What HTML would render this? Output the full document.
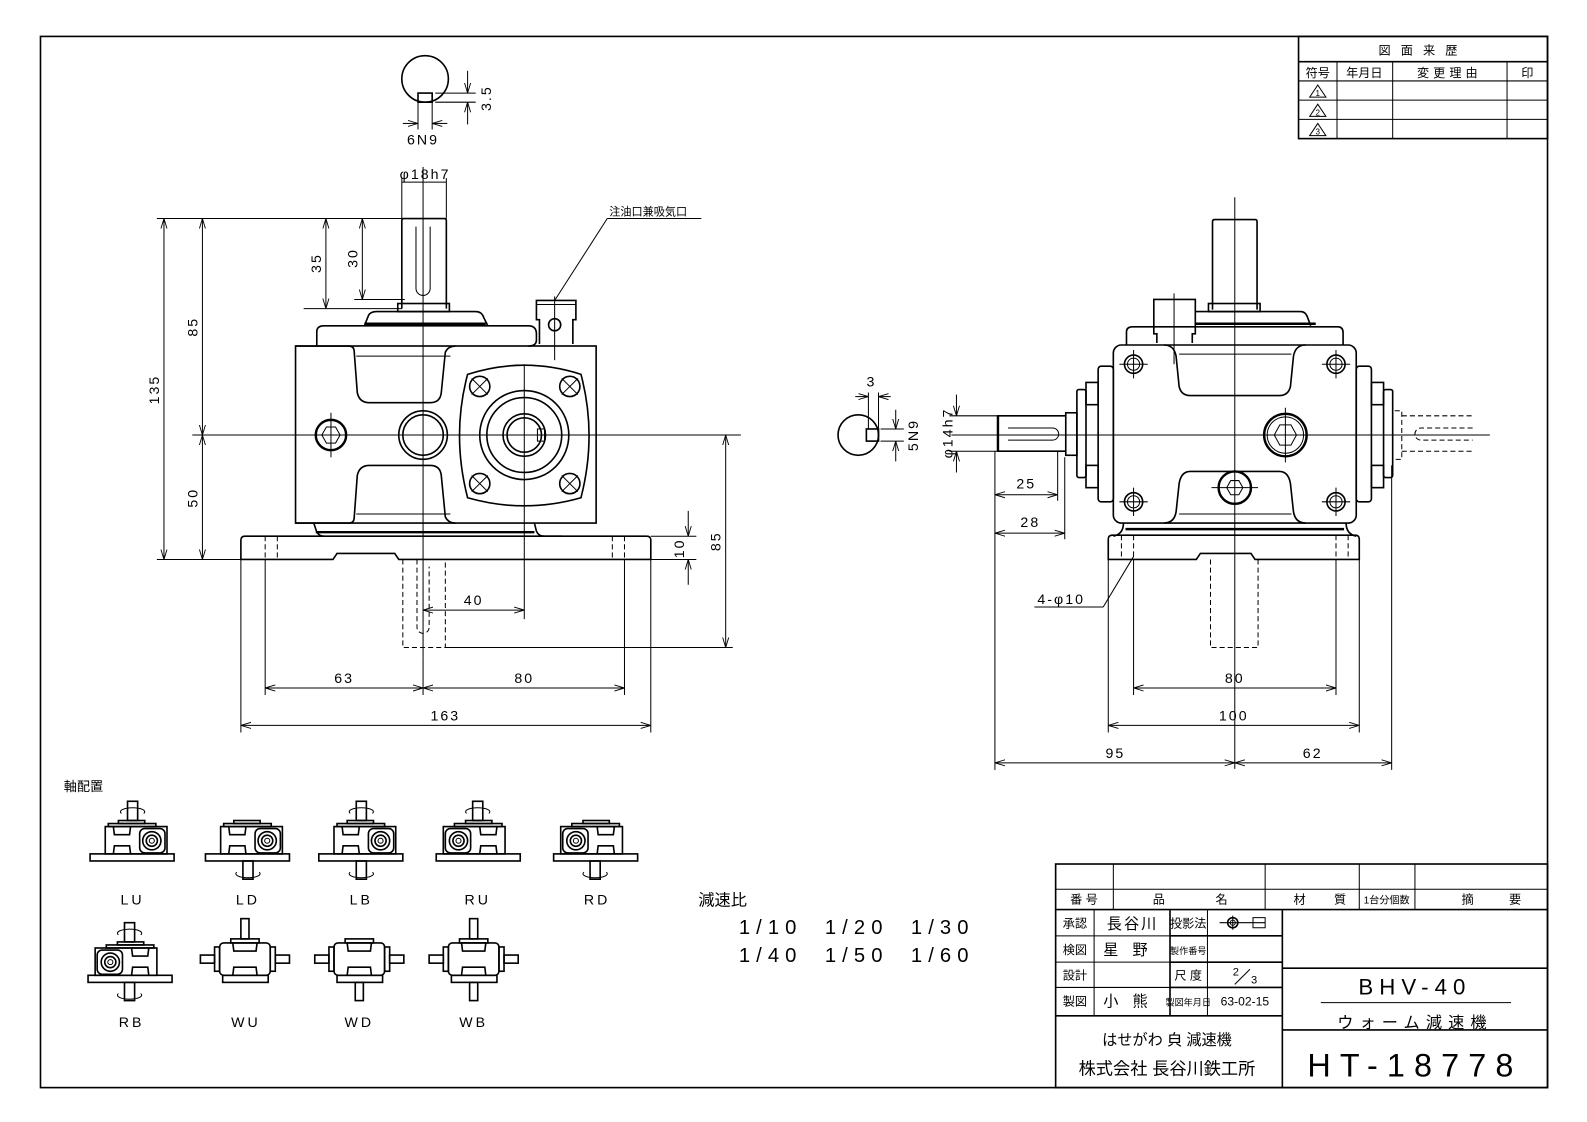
<!DOCTYPE html>
<html><head><meta charset="utf-8">
<style>
html,body{margin:0;padding:0;background:#fff;}
svg{display:block;}
text{font-family:"Liberation Sans","Noto Sans CJK JP",sans-serif;fill:#000;}
.o{fill:none;stroke:#000;stroke-width:1.6;}
.t{fill:none;stroke:#000;stroke-width:1;}
.d{fill:none;stroke:#000;stroke-width:1;stroke-dasharray:5 3;}
.k{fill:none;stroke:#000;stroke-width:2.4;}
.dim{font-size:14px;letter-spacing:2px;}
</style></head><body>
<svg width="1587" height="1122" viewBox="0 0 1568 1109" preserveAspectRatio="none" xmlns="http://www.w3.org/2000/svg">
<defs>
<marker id="a" markerWidth="10" markerHeight="8" refX="10" refY="4" orient="auto-start-reverse" markerUnits="userSpaceOnUse">
<path d="M0,1 L10,4 L0,7" fill="none" stroke="#000" stroke-width="0.9"/></marker>
<g id="ic">
<rect x="-42" y="-8" width="83" height="7" class="o"/>
<rect x="-27" y="-35" width="61" height="27" class="o"/>
<rect x="-24" y="-38" width="47" height="3" class="o"/>
<rect x="-14" y="-41" width="26" height="3" class="o"/>
<path d="M-19,-35 L-18,-27 H-3 L-2,-35 M-19,-8 L-18,-16 H-3 L-2,-8" class="o"/>
<rect x="7" y="-33" width="25" height="24" rx="5" class="o"/>
<circle cx="19" cy="-21" r="9" class="o"/><circle cx="19" cy="-21" r="5.5" class="o"/><circle cx="19" cy="-21" r="2.5" class="t"/>
</g>
<g id="up"><rect x="-5" y="-60" width="10" height="19" class="o"/><path d="M-11,-48 A12,4 0 1,1 11,-48" class="t"/></g>
<g id="dn"><rect x="-5" y="-1" width="10" height="18" class="o"/><path d="M-11,10 A12,4 0 1,0 11,10" class="t"/></g>
<g id="w">
<rect x="-22" y="-8" width="45" height="7" class="o"/>
<rect x="-25" y="-40" width="50" height="32" rx="4" class="o"/>
<rect x="-30" y="-36" width="5" height="24" class="o"/><rect x="25" y="-36" width="5" height="24" class="o"/>
<rect x="-44" y="-28" width="14" height="8" class="o"/><rect x="30" y="-28" width="14" height="8" class="o"/>
<rect x="-14" y="-44" width="28" height="4" class="o"/>
<path d="M-12,-40 L-11,-32 H11 L12,-40 M-12,-8 L-11,-16 H11 L12,-8" class="o"/>
</g>
</defs>

<rect x="40" y="36" width="1489" height="1039" class="o" stroke-width="2"/>

<g>
<rect x="1283" y="36" width="246" height="101" class="o"/>
<line x1="1283" y1="61" x2="1529" y2="61" class="o" stroke-width="2"/>
<line x1="1283" y1="80" x2="1529" y2="80" class="t"/>
<line x1="1283" y1="99" x2="1529" y2="99" class="t"/>
<line x1="1283" y1="118" x2="1529" y2="118" class="t"/>
<line x1="1321" y1="61" x2="1321" y2="137" class="t"/>
<line x1="1376" y1="61" x2="1376" y2="137" class="t"/>
<line x1="1489" y1="61" x2="1489" y2="137" class="t"/>
<text x="1406" y="54" font-size="12" text-anchor="middle" letter-spacing="10">図面来歴</text>
<text x="1302" y="76" font-size="12" text-anchor="middle">符号</text>
<text x="1348" y="76" font-size="12" text-anchor="middle">年月日</text>
<text x="1432" y="76" font-size="12" text-anchor="middle" letter-spacing="4">変更理由</text>
<text x="1509" y="76" font-size="12" text-anchor="middle">印</text>
<path d="M1294,96 L1302,84 L1310,96 Z M1294,115 L1302,103 L1310,115 Z M1294,134 L1302,122 L1310,134 Z" class="t"/>
<text x="1302" y="95" font-size="8" text-anchor="middle">1</text>
<text x="1302" y="114" font-size="8" text-anchor="middle">2</text>
<text x="1302" y="133" font-size="8" text-anchor="middle">3</text>
</g>

<circle cx="420" cy="78" r="23" class="o"/>
<rect x="413" y="92" width="14" height="9" fill="#fff" class="o"/>
<path d="M430,92 H470 M430,101 H470" class="t"/>
<line x1="462" y1="70" x2="462" y2="92" class="t" marker-end="url(#a)"/>
<line x1="462" y1="123" x2="462" y2="101" class="t" marker-end="url(#a)"/>
<text x="485" y="97" class="dim" transform="rotate(-90 485 97)" text-anchor="middle">3.5</text>
<path d="M413,101 V128 M427,101 V128" class="t"/>
<line x1="398" y1="122" x2="413" y2="122" class="t" marker-end="url(#a)"/>
<line x1="442" y1="122" x2="427" y2="122" class="t" marker-end="url(#a)"/>
<text x="418" y="143" class="dim" text-anchor="middle">6N9</text>
<text x="420" y="177" class="dim" text-anchor="middle">φ18h7</text>
<path d="M397,180 H441 M397,176 V216 M441,176 V216" class="t"/>

<text x="602" y="213" font-size="11">注油口兼吸気口</text>
<path d="M600,216 H693 M600,216 L548,297" class="t"/>

<g>
<line x1="190" y1="430" x2="732" y2="430" class="t"/>
<line x1="418" y1="165" x2="418" y2="650" class="t"/>
<line x1="518" y1="360" x2="518" y2="612" class="t"/>
<path d="M397,305 V218 Q397,216 399,216 H439 Q441,216 441,218 V305" class="o"/>
<path d="M411,224 V285 A7,7 0 0,0 425,285 V224" class="t"/>
<rect x="393" y="300" width="51" height="8" class="o"/>
<path d="M360,322 L364,312 Q366,308 372,308 H470 Q476,308 478,314 L482,322" class="o"/>
<line x1="360" y1="320" x2="480" y2="320" class="k"/>
<path d="M313,342 V328 Q313,322 320,322 H522 Q530,322 530,330 V336 Q530,342 522,342" class="o"/>
<rect x="292" y="342" width="297" height="175" class="o"/>
<path d="M292,342 H345 Q350,342 350,348 L353,388 Q355,398 365,398 H425 Q435,398 436,388 L440,348 Q443,342 450,342" class="o"/>
<path d="M292,517 H345 Q350,517 350,511 L353,470 Q355,460 365,460 H425 Q435,460 436,470 L440,511 Q443,517 450,517" class="o"/>
<path d="M352,352 H445 M352,508 H445" class="t"/>
<circle cx="327" cy="430" r="15" class="k"/>
<path d="M318,430 L322.5,422 H331.5 L336,430 L331.5,438 H322.5 Z" class="t"/>
<line x1="327" y1="408" x2="327" y2="452" class="t"/>
<circle cx="418" cy="430" r="24" class="o"/><circle cx="418" cy="430" r="20" class="o"/>
<path d="M462,370 Q518,352 574,370 Q590,430 574,492 Q518,508 462,492 Q446,430 462,370 Z" class="o"/>
<circle cx="518" cy="430" r="44" class="o"/><circle cx="518" cy="430" r="37" class="o"/>
<circle cx="518" cy="430" r="21" class="o"/><circle cx="518" cy="430" r="17" class="o"/>
<rect x="531" y="424" width="7" height="12" class="t"/>
<g class="o">
<circle cx="474" cy="382" r="10"/><circle cx="563" cy="382" r="10"/><circle cx="474" cy="478" r="10"/><circle cx="563" cy="478" r="10"/>
</g>
<path d="M466,374 L482,390 M482,374 L466,390 M555,374 L571,390 M571,374 L555,390 M466,470 L482,486 M482,470 L466,486 M555,470 L571,486 M571,470 L555,486" class="t"/>
<path d="M533,340 V316 H530 V297 H569 V316 H566 V340" class="o"/>
<path d="M530,301 H569" class="t"/>
<circle cx="548" cy="321" r="6" class="o"/>
<line x1="548" y1="293" x2="548" y2="356" class="t"/>
<path d="M310,517 L312,523 Q314,530 320,530 M528,517 L530,525 Q532,530 538,530 H555" class="o"/>
<path d="M312,526 H528" class="k"/>
<path d="M242,530 H639 Q643,530 643,534 V553 H394 L390,547 H333 L329,553 H238 V534 Q238,530 242,530 Z" class="o"/>
<path d="M262,530 V553 M274,530 V553 M605,530 V553 M617,530 V553" class="d"/>
<path d="M398,553 V640 H440 V553 M412,553 V620 A6,6 0 0,0 424,620 V560" class="d"/>
<path d="M155,216 H441 M155,553 H238 M300,305 H397 M350,296 H400" class="t"/>
<line x1="162" y1="216" x2="162" y2="553" class="t" marker-start="url(#a)" marker-end="url(#a)"/>
<text x="157" y="385" class="dim" transform="rotate(-90 157 385)" text-anchor="middle">135</text>
<line x1="200" y1="216" x2="200" y2="430" class="t" marker-start="url(#a)" marker-end="url(#a)"/>
<text x="195" y="323" class="dim" transform="rotate(-90 195 323)" text-anchor="middle">85</text>
<line x1="200" y1="430" x2="200" y2="553" class="t" marker-start="url(#a)" marker-end="url(#a)"/>
<text x="195" y="492" class="dim" transform="rotate(-90 195 492)" text-anchor="middle">50</text>
<line x1="322" y1="216" x2="322" y2="305" class="t" marker-start="url(#a)" marker-end="url(#a)"/>
<text x="317" y="260" class="dim" transform="rotate(-90 317 260)" text-anchor="middle">35</text>
<line x1="358" y1="216" x2="358" y2="296" class="t" marker-start="url(#a)" marker-end="url(#a)"/>
<text x="353" y="255" class="dim" transform="rotate(-90 353 255)" text-anchor="middle">30</text>
<path d="M440,640 H724 M643,530 H688 M643,553 H688" class="t"/>
<line x1="717" y1="430" x2="717" y2="640" class="t" marker-start="url(#a)" marker-end="url(#a)"/>
<text x="712" y="535" class="dim" transform="rotate(-90 712 535)" text-anchor="middle">85</text>
<line x1="680" y1="505" x2="680" y2="530" class="t" marker-end="url(#a)"/>
<line x1="680" y1="578" x2="680" y2="553" class="t" marker-end="url(#a)"/>
<text x="676" y="542" class="dim" transform="rotate(-90 676 542)" text-anchor="middle">10</text>
<line x1="418" y1="603" x2="518" y2="603" class="t" marker-start="url(#a)" marker-end="url(#a)"/>
<text x="468" y="598" class="dim" text-anchor="middle">40</text>
<path d="M262,553 V687 M617,553 V687 M238,553 V724 M643,553 V724 M418,650 V687" class="t"/>
<line x1="262" y1="680" x2="418" y2="680" class="t" marker-start="url(#a)" marker-end="url(#a)"/>
<line x1="418" y1="680" x2="617" y2="680" class="t" marker-start="url(#a)" marker-end="url(#a)"/>
<text x="340" y="675" class="dim" text-anchor="middle">63</text>
<text x="518" y="675" class="dim" text-anchor="middle">80</text>
<line x1="238" y1="717" x2="643" y2="717" class="t" marker-start="url(#a)" marker-end="url(#a)"/>
<text x="440" y="712" class="dim" text-anchor="middle">163</text>
</g>

<circle cx="848" cy="430" r="20" class="o"/>
<rect x="856" y="424" width="12" height="12" fill="#fff" class="o"/>
<path d="M858,388 V424 M868,388 V424 M870,424 H893 M870,436 H893" class="t"/>
<line x1="845" y1="392" x2="858" y2="392" class="t" marker-end="url(#a)"/>
<line x1="880" y1="392" x2="868" y2="392" class="t" marker-end="url(#a)"/>
<text x="861" y="382" class="dim" text-anchor="middle">3</text>
<line x1="885" y1="405" x2="885" y2="424" class="t" marker-end="url(#a)"/>
<line x1="885" y1="456" x2="885" y2="436" class="t" marker-end="url(#a)"/>
<text x="907" y="430" class="dim" transform="rotate(-90 907 430)" text-anchor="middle">5N9</text>

<g>
<line x1="940" y1="430" x2="1472" y2="430" class="t"/>
<line x1="1220" y1="195" x2="1220" y2="760" class="t"/>
<path d="M1198,306 V219 Q1198,217 1200,217 H1240 Q1242,217 1242,219 V306" class="o"/>
<rect x="1194" y="300" width="51" height="8" class="o"/>
<path d="M1181,308 H1285 Q1290,308 1292,314 L1295,322" class="o"/>
<line x1="1181" y1="320" x2="1300" y2="320" class="k"/>
<path d="M1113,341 V328 Q1113,323 1119,323 H1322 Q1327,323 1327,329 V341" class="o"/>
<path d="M1143,339 V330 H1140 V296 H1181 V330 H1178 V339" class="o"/>
<path d="M1160,290 V360" class="t"/>
<rect x="1100" y="341" width="240" height="176" rx="8" class="o"/>
<path d="M1150,341 Q1160,341 1162,352 L1165,382 Q1167,391 1176,391 H1264 Q1273,391 1275,382 L1278,352 Q1280,341 1290,341" class="o"/>
<path d="M1165,350 H1276" class="t"/>
<path d="M1150,517 Q1160,517 1162,506 L1165,478 Q1167,466 1176,466 H1264 Q1273,466 1275,478 L1278,506 Q1280,517 1290,517" class="o"/>
<path d="M1165,508 H1276" class="t"/>
<g class="o"><circle cx="1120" cy="360" r="9"/><circle cx="1320" cy="360" r="9"/><circle cx="1120" cy="496" r="9"/><circle cx="1320" cy="496" r="9"/></g>
<g class="t"><circle cx="1120" cy="360" r="6"/><circle cx="1320" cy="360" r="6"/><circle cx="1120" cy="496" r="6"/><circle cx="1320" cy="496" r="6"/>
<path d="M1106,360 H1134 M1120,346 V374 M1306,360 H1334 M1320,346 V374 M1106,496 H1134 M1120,482 V510 M1306,496 H1334 M1320,482 V510"/></g>
<circle cx="1270" cy="430" r="21" class="k"/><circle cx="1270" cy="430" r="18" class="t"/>
<path d="M1259,430 L1264.5,420 H1275.5 L1281,430 L1275.5,440 H1264.5 Z" class="t"/>
<line x1="1270" y1="403" x2="1270" y2="457" class="t"/>
<circle cx="1220" cy="482" r="16" class="k"/>
<path d="M1212,482 L1216,475 H1224 L1228,482 L1224,489 H1216 Z" class="t"/>
<line x1="1197" y1="482" x2="1243" y2="482" class="t"/>
<rect x="1085" y="362" width="15" height="134" rx="3" class="o"/>
<rect x="1073" y="378" width="12" height="22" class="o"/><rect x="1073" y="460" width="12" height="22" class="o"/>
<rect x="1064" y="385" width="9" height="87" rx="2" class="o"/>
<rect x="1053" y="408" width="11" height="42" class="o"/>
<path d="M1053,411 H986 V446 H1053" class="o"/>
<line x1="986" y1="411" x2="986" y2="446" class="k"/>
<path d="M996,423 H1040 A6,6 0 0,1 1040,435 H996" class="t"/>
<rect x="1340" y="362" width="15" height="134" rx="3" class="o"/>
<rect x="1355" y="378" width="12" height="22" class="o"/><rect x="1355" y="460" width="12" height="22" class="o"/>
<rect x="1367" y="385" width="9" height="87" rx="2" class="o"/>
<path d="M1378,406 H1385 V454 H1378 M1385,411 H1455 M1385,446 H1455 M1455,423 H1404 A6,6 0 0,0 1404,435 H1455" class="d"/>
<path d="M1110,517 Q1110,528 1100,530 M1330,517 Q1330,528 1340,530" class="o"/>
<path d="M1112,523 H1328" class="k"/>
<path d="M1099,529 H1339 Q1343,529 1343,533 V553 H1240 L1236,547 H1186 L1182,553 H1095 V533 Q1095,529 1099,529 Z" class="o"/>
<path d="M1108,529 V553 M1120,529 V553 M1320,529 V553 M1332,529 V553" class="d"/>
<path d="M1196,553 V640 H1243 V553" class="d"/>
<path d="M938,411 H986 M938,446 H986" class="t"/>
<line x1="945" y1="390" x2="945" y2="411" class="t" marker-end="url(#a)"/>
<line x1="945" y1="467" x2="945" y2="446" class="t" marker-end="url(#a)"/>
<text x="941" y="428" class="dim" transform="rotate(-90 941 428)" text-anchor="middle">φ14h7</text>
<path d="M983,446 V761 M1045,446 V495 M1052,452 V533" class="t"/>
<line x1="983" y1="489" x2="1045" y2="489" class="t" marker-start="url(#a)" marker-end="url(#a)"/>
<text x="1014" y="483" class="dim" text-anchor="middle">25</text>
<line x1="983" y1="527" x2="1052" y2="527" class="t" marker-start="url(#a)" marker-end="url(#a)"/>
<text x="1018" y="521" class="dim" text-anchor="middle">28</text>
<path d="M1090,600 H1022 M1090,600 L1120,550" class="t"/>
<text x="1025" y="597" class="dim">4-φ10</text>
<path d="M1120,553 V687 M1320,553 V687 M1095,553 V724 M1343,553 V724 M1375,460 V761" class="t"/>
<line x1="1120" y1="680" x2="1320" y2="680" class="t" marker-start="url(#a)" marker-end="url(#a)"/>
<text x="1220" y="675" class="dim" text-anchor="middle">80</text>
<line x1="1095" y1="717" x2="1343" y2="717" class="t" marker-start="url(#a)" marker-end="url(#a)"/>
<text x="1219" y="712" class="dim" text-anchor="middle">100</text>
<line x1="983" y1="754" x2="1220" y2="754" class="t" marker-start="url(#a)" marker-end="url(#a)"/>
<line x1="1220" y1="754" x2="1375" y2="754" class="t" marker-start="url(#a)" marker-end="url(#a)"/>
<text x="1102" y="749" class="dim" text-anchor="middle">95</text>
<text x="1297" y="749" class="dim" text-anchor="middle">62</text>
</g>

<text x="63" y="782" font-size="13">軸配置</text>
<g transform="translate(131,852)"><use href="#ic"/><use href="#up"/></g>
<g transform="translate(245,852)"><use href="#ic"/><use href="#dn"/></g>
<g transform="translate(357,852)"><use href="#ic"/><use href="#up"/><use href="#dn"/></g>
<g transform="translate(472,852) scale(-1,1)"><use href="#ic"/><use href="#up"/></g>
<g transform="translate(588,852) scale(-1,1)"><use href="#ic"/><use href="#dn"/></g>
<g transform="translate(128,972) scale(-1,1)"><use href="#ic"/><use href="#up"/><use href="#dn"/></g>
<g transform="translate(242,972)"><use href="#w"/><rect x="-4" y="-64" width="8" height="20" class="o"/></g>
<g transform="translate(355,972)"><use href="#w"/><rect x="-4" y="-1" width="8" height="18" class="o"/></g>
<g transform="translate(468,972)"><use href="#w"/><rect x="-4" y="-64" width="8" height="20" class="o"/><rect x="-4" y="-1" width="8" height="18" class="o"/></g>
<g font-size="14" text-anchor="middle" letter-spacing="3">
<text x="131" y="894">LU</text><text x="245" y="894">LD</text><text x="357" y="894">LB</text><text x="472" y="894">RU</text><text x="590" y="894">RD</text>
<text x="130" y="1015">RB</text><text x="243" y="1015">WU</text><text x="355" y="1015">WD</text><text x="468" y="1015">WB</text>
</g>

<text x="690" y="895" font-size="16">減速比</text>
<g font-size="20" letter-spacing="6">
<text x="730" y="923">1/10</text><text x="815" y="923">1/20</text><text x="900" y="923">1/30</text>
<text x="730" y="951">1/40</text><text x="815" y="951">1/50</text><text x="900" y="951">1/60</text>
</g>

<g>
<rect x="1043" y="854" width="486" height="221" class="o"/>
<line x1="1043" y1="879" x2="1529" y2="879" class="t"/>
<line x1="1043" y1="899" x2="1529" y2="899" class="o" stroke-width="2"/>
<path d="M1100,854 V899 M1250,854 V899 M1343,854 V899 M1398,854 V899" class="t"/>
<path d="M1043,925 H1267 M1043,951 H1267 M1043,976 H1267" class="t"/>
<line x1="1043" y1="1004" x2="1267" y2="1004" class="o" stroke-width="2"/>
<path d="M1156,925 H1267 M1156,951 H1267 M1156,976 H1267" class="o" stroke-width="2"/>
<path d="M1081,899 V1004 M1193,899 V1004" class="t"/>
<path d="M1156,899 V1004 M1267,899 V1075" class="o" stroke-width="2"/>
<path d="M1267,957 H1529 M1267,1018 H1529" class="o" stroke-width="2"/>
<line x1="1305" y1="991" x2="1493" y2="991" class="t"/>
<g font-size="12" text-anchor="middle">
<text x="1071" y="893">番 号</text><text x="1145" y="893">品</text><text x="1207" y="893">名</text>
<text x="1284" y="893">材</text><text x="1324" y="893">質</text><text x="1370" y="893" font-size="10">1台分個数</text>
<text x="1450" y="893">摘</text><text x="1497" y="893">要</text>
<text x="1062" y="917">承認</text><text x="1062" y="943">検図</text><text x="1062" y="968">設計</text><text x="1062" y="994">製図</text>
<text x="1174" y="917">投影法</text><text x="1174" y="943" font-size="9">製作番号</text><text x="1174" y="968">尺 度</text><text x="1174" y="994" font-size="9">製図年月日</text>
<text x="1230" y="994">63-02-15</text>
</g>
<g font-size="15" text-anchor="middle">
<text x="1119" y="918" letter-spacing="2">長谷川</text>
<text x="1119" y="944" letter-spacing="14">星野</text>
<text x="1119" y="995" letter-spacing="14">小熊</text>
</g>
<path d="M1205,912 H1250 M1218,905 V919 M1238,907 H1250 V917 H1238 Z" class="t"/>
<circle cx="1218" cy="912" r="5" class="o"/><circle cx="1218" cy="912" r="2.5" class="t"/>
<text x="1218" y="964" font-size="11">2</text>
<line x1="1220" y1="973" x2="1235" y2="958" class="t"/>
<text x="1236" y="972" font-size="11">3</text>
<text x="1398" y="983" font-size="22" text-anchor="middle" letter-spacing="6">BHV-40</text>
<text x="1398" y="1016" font-size="16" text-anchor="middle" letter-spacing="6">ウォーム減速機</text>
<text x="1398" y="1064" font-size="32" text-anchor="middle" letter-spacing="9">HT-18778</text>
<text x="1153" y="1033" font-size="15" text-anchor="middle">はせがわ 㒵 減速機</text>
<text x="1153" y="1062" font-size="17" text-anchor="middle">株式会社 長谷川鉄工所</text>
</g>
</svg>
</body></html>
